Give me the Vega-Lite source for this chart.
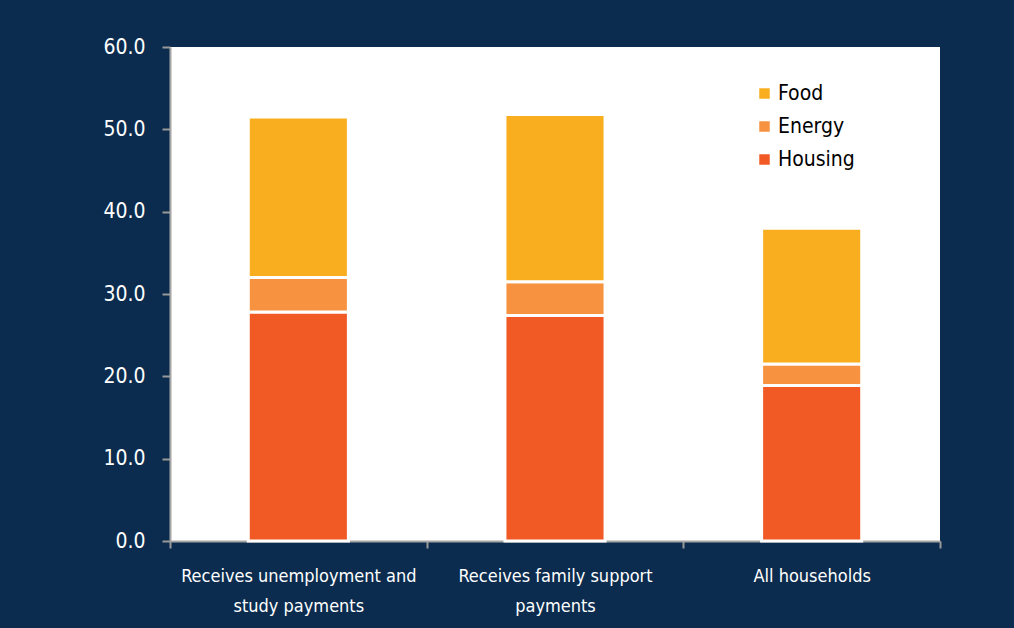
{
  "$schema": "https://vega.github.io/schema/vega-lite/v6.json",
  "width": 770,
  "height": 494,
  "autosize": "none",
  "padding": {"left": 170, "top": 47, "right": 74, "bottom": 87},
  "background": "#0b2c4e",
  "config": {
    "view": {"fill": "white", "stroke": null},
    "font": "DejaVu Sans Condensed"
  },
  "data": {
    "values": [
      {"group": "Receives unemployment and|study payments", "cat": "Housing", "o": 1, "value": 27.8},
      {"group": "Receives unemployment and|study payments", "cat": "Energy", "o": 2, "value": 4.2},
      {"group": "Receives unemployment and|study payments", "cat": "Food", "o": 3, "value": 19.5},
      {"group": "Receives family support|payments", "cat": "Housing", "o": 1, "value": 27.4},
      {"group": "Receives family support|payments", "cat": "Energy", "o": 2, "value": 4.1},
      {"group": "Receives family support|payments", "cat": "Food", "o": 3, "value": 20.3},
      {"group": "All households", "cat": "Housing", "o": 1, "value": 18.9},
      {"group": "All households", "cat": "Energy", "o": 2, "value": 2.6},
      {"group": "All households", "cat": "Food", "o": 3, "value": 16.5}
    ]
  },
  "mark": {"type": "bar", "width": {"band": 0.39}, "stroke": "white", "strokeWidth": 3},
  "encoding": {
    "x": {
      "field": "group",
      "type": "nominal",
      "sort": null,
      "scale": {"paddingInner": 0, "paddingOuter": 0},
      "axis": {
        "title": null,
        "labelAngle": 0,
        "labelExpr": "split(datum.label, '|')",
        "labelLimit": 0,
        "labelColor": "white",
        "labelFontSize": 18,
        "labelLineHeight": 30,
        "labelPadding": 19,
        "tickBand": "extent",
        "tickColor": "#999999",
        "tickWidth": 2,
        "tickSize": 7,
        "domainColor": "#a6a6a6",
        "domainWidth": 2
      }
    },
    "y": {
      "field": "value",
      "type": "quantitative",
      "stack": "zero",
      "scale": {"domain": [0, 60], "nice": false},
      "axis": {
        "title": null,
        "values": [0, 10, 20, 30, 40, 50, 60],
        "format": ".1f",
        "grid": false,
        "labelColor": "white",
        "labelFontSize": 21,
        "labelPadding": 17,
        "tickColor": "#999999",
        "tickWidth": 2,
        "tickSize": 8,
        "domainColor": "#a6a6a6",
        "domainWidth": 2
      }
    },
    "color": {
      "field": "cat",
      "type": "nominal",
      "scale": {"domain": ["Food", "Energy", "Housing"], "range": ["#f9ae1f", "#f69240", "#f15a24"]},
      "legend": {
        "title": null,
        "orient": "none",
        "legendX": 584,
        "legendY": 36,
        "symbolType": "square",
        "symbolSize": 110,
        "symbolStrokeWidth": 0,
        "labelFontSize": 21,
        "labelColor": "black",
        "rowPadding": 11,
        "labelOffset": 3
      }
    },
    "order": {"field": "o", "type": "quantitative"}
  }
}
